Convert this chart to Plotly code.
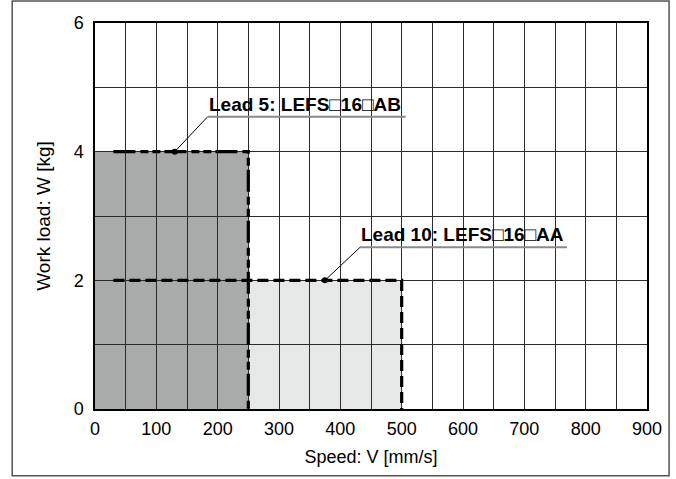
import plotly.graph_objects as go

# ---- data ----
speed_ticks = [0, 100, 200, 300, 400, 500, 600, 700, 800, 900]
load_ticks = [0, 2, 4, 6]

lead5_speed = [30, 250, 250]
lead5_load = [4, 4, 0]
lead10_speed = [30, 500, 500]
lead10_load = [2, 2, 0]

lead5_region = {"x0": 0, "x1": 250, "y0": 0, "y1": 4}
lead10_region = {"x0": 250, "x1": 500, "y0": 0, "y1": 2}

lead5_label = "Lead 5: LEFS\u25a116\u25a1AB"
lead10_label = "Lead 10: LEFS\u25a116\u25a1AA"
lead5_point = (130, 4)
lead10_point = (375, 2)

FONT = "Liberation Sans, Arial, sans-serif"

fig = go.Figure()

fig.add_trace(go.Scatter(x=lead10_speed, y=lead10_load, mode="lines",
                         line=dict(color="black", width=3.2, dash="11px,5px"),
                         hoverinfo="skip", showlegend=False))
fig.add_trace(go.Scatter(x=lead5_speed, y=lead5_load, mode="lines",
                         line=dict(color="black", width=3.2,
                                   dash="22px,5px,8px,4px,8px,4px"),
                         hoverinfo="skip", showlegend=False))
fig.add_trace(go.Scatter(x=[lead5_point[0], lead10_point[0]],
                         y=[lead5_point[1], lead10_point[1]], mode="markers",
                         marker=dict(color="black", size=6),
                         hoverinfo="skip", showlegend=False))

shapes = []
shapes.append(dict(type="rect", xref="x", yref="y", layer="below",
                   fillcolor="#a9aaaa", line=dict(width=0), **lead5_region))
shapes.append(dict(type="rect", xref="x", yref="y", layer="below",
                   fillcolor="#e6e7e7", line=dict(width=0), **lead10_region))

annotations = []
for (px, py), label, dx, dy, ulen in [
    (lead5_point, lead5_label, 33, 35, 198),
    (lead10_point, lead10_label, 35, 33, 207),
]:
    # leader line
    shapes.append(dict(type="line", xref="x", yref="y",
                       xsizemode="pixel", ysizemode="pixel",
                       xanchor=px, yanchor=py,
                       x0=0, y0=0, x1=dx, y1=dy,
                       line=dict(color="black", width=1)))
    # underline
    shapes.append(dict(type="line", xref="x", yref="y",
                       xsizemode="pixel", ysizemode="pixel",
                       xanchor=px, yanchor=py,
                       x0=dx, y0=dy, x1=dx + ulen, y1=dy,
                       line=dict(color="#8a8a8a", width=2)))
    annotations.append(dict(x=px, y=py, xref="x", yref="y", text="<b>%s</b>" % label,
                            showarrow=False, xanchor="left", yanchor="bottom",
                            xshift=dx - 1, yshift=dy,
                            font=dict(family=FONT, size=19, color="black")))

# outer frame
shapes.append(dict(type="rect", xref="paper", yref="paper",
                   x0=-0.150, x1=1.040, y0=-0.173, y1=1.057,
                   line=dict(color="#555555", width=1.5), layer="below"))

fig.update_layout(
    width=676, height=479,
    margin=dict(l=95, r=29, t=23, b=70),
    paper_bgcolor="white", plot_bgcolor="white",
    font=dict(family=FONT, color="black"),
    shapes=shapes, annotations=annotations,
    xaxis=dict(range=[0, 900], tickvals=speed_ticks,
               ticktext=[str(v) for v in speed_ticks],
               showgrid=True, gridcolor="#2b2b2b", gridwidth=1,
               minor=dict(dtick=50, showgrid=True, gridcolor="#2b2b2b", gridwidth=1),
               showline=True, linecolor="black", linewidth=1.5, mirror=True,
               zeroline=False, ticks="", ticklabelstandoff=3,
               tickfont=dict(size=18, family=FONT),
               title=dict(text="Speed: V [mm/s]", font=dict(size=18, family=FONT), standoff=12),
               fixedrange=True),
    yaxis=dict(range=[0, 6], tickvals=load_ticks,
               ticktext=[str(v) for v in load_ticks],
               showgrid=True, gridcolor="#2b2b2b", gridwidth=1,
               minor=dict(dtick=1, showgrid=True, gridcolor="#2b2b2b", gridwidth=1),
               showline=True, linecolor="black", linewidth=1.5, mirror=True,
               zeroline=False, ticks="", ticklabelstandoff=6,
               tickfont=dict(size=18, family=FONT),
               title=dict(text="Work load: W [kg]", font=dict(size=19, family=FONT), standoff=18),
               fixedrange=True),
)

fig.write_html("out.html", post_script="document.body.style.margin='0';",
               config={"displayModeBar": False})
